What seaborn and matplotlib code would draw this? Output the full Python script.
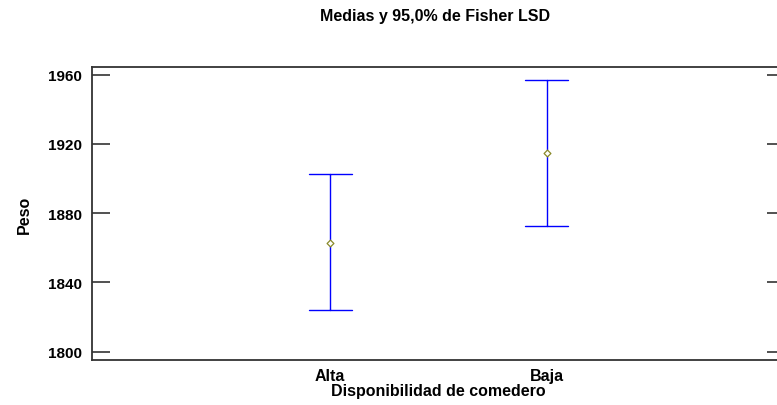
import pandas as pd
import matplotlib
matplotlib.use('Agg')
import matplotlib.pyplot as plt
import seaborn as sns

# Group names and LSD intervals
grupos = ['Alta', 'Baja']
medias = [1862.9, 1914.9]
limite_inf = [1824.3, 1872.8]
limite_sup = [1902.5, 1957.0]

# One row per (group, value): lower, mean, upper -> median = mean, min/max = interval
rows = []
for g, lo, m, hi in zip(grupos, limite_inf, medias, limite_sup):
    for v in (lo, m, hi):
        rows.append({'grupo': g, 'valor': v})
df = pd.DataFrame(rows)
df_medias = pd.DataFrame({'grupo': grupos, 'valor': medias})

sns.set_style('white')
plt.rcParams['font.family'] = ['Liberation Sans', 'DejaVu Sans']
plt.rcParams['text.color'] = 'black'
plt.rcParams['axes.labelcolor'] = 'black'
plt.rcParams['xtick.color'] = 'black'
plt.rcParams['ytick.color'] = 'black'

fig = plt.figure(figsize=(7.77, 4.06), dpi=100)
ax = fig.add_axes([92 / 777, 45 / 406, 693 / 777, 293 / 406])

# Error bars (LSD intervals)
sns.pointplot(data=df, x='grupo', y='valor', order=grupos, estimator='median',
              errorbar=('pi', 100), capsize=0.2, color='#0000ff',
              linestyle='none', marker='', err_kws={'linewidth': 1.0}, ax=ax)
# Means
sns.scatterplot(data=df_medias, x='grupo', y='valor', marker='D', s=12,
                facecolor='white', edgecolor='#8a8a2a', linewidth=0.9,
                zorder=5, ax=ax)

ax.set_xlim(-1.1, 2.1)
ax.set_ylim(1795.2, 1964.4)
ax.set_yticks([1800, 1840, 1880, 1920, 1960])

for side in ['left', 'bottom', 'top', 'right']:
    ax.spines[side].set_color('#333333')
    ax.spines[side].set_linewidth(1.3)

ax.tick_params(axis='y', which='both', direction='in', length=13, width=1.1,
               color='#222222', left=True, right=True, labelsize=11, pad=7)
ax.tick_params(axis='x', length=0, labelsize=11.5, pad=6)
for lab in ax.get_xticklabels() + ax.get_yticklabels():
    lab.set_fontweight('bold')

ax.set_xlabel('Disponibilidad de comedero', fontsize=11.5, fontweight='bold', labelpad=0)
ax.set_ylabel('Peso', fontsize=11.5, fontweight='bold', labelpad=12)
fig.text(435 / 777, 1 - 17 / 406, 'Medias y 95,0% de Fisher LSD', ha='center',
         va='center', fontsize=11.5, fontweight='bold')

fig.savefig('out.png', dpi=100)
